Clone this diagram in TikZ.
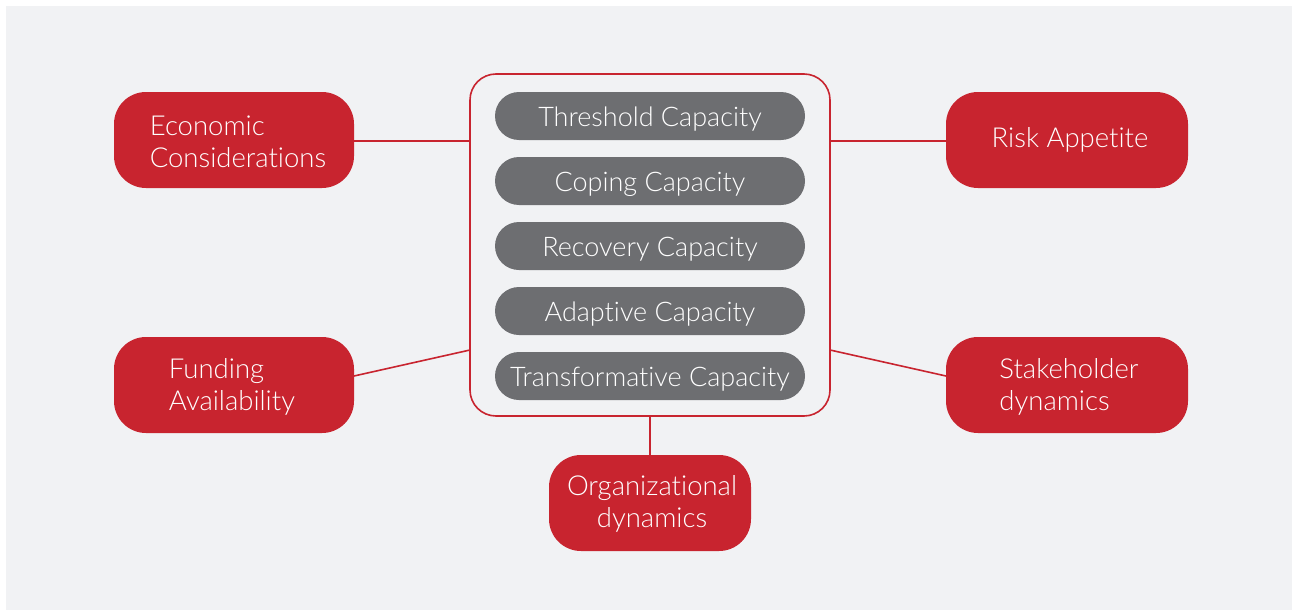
\documentclass[tikz,border=0pt]{standalone}
\usepackage{fontspec}
\setmainfont{Lato}[UprightFont={* Light},Ligatures=NoCommon]
\definecolor{bgc}{HTML}{F1F2F4}
\definecolor{redc}{HTML}{C8242F}
\definecolor{pillc}{HTML}{6D6E71}
\begin{document}
\begin{tikzpicture}[x=1pt,y=-1pt,
  redbox/.style={draw=none,fill=redc,rounded corners=32pt,minimum width=240pt,minimum height=96pt,inner sep=0pt},
  redtext/.style={text=white,align=left,inner sep=0pt,font=\fontsize{27.5}{32}\selectfont},
  pill/.style={fill=pillc,rounded corners=24pt,minimum width=310pt,minimum height=48pt,inner sep=0pt,
    text=white,font=\fontsize{27}{30}\selectfont,text height=22pt,text depth=2pt},
  link/.style={draw=redc,line width=1.6pt}]
\useasboundingbox (0,0) rectangle (1292,610);
\fill[white] (0,0) rectangle (1292,610);
\fill[bgc] (6,6) rectangle (1292,610);
% central frame
\node[draw=redc,line width=1.6pt,rounded corners=26pt,fill=bgc,minimum width=360pt,minimum height=342pt,inner sep=0pt] (core) at (650,245) {};
\node[pill] (p1) at (650,116) {Threshold Capacity};
\node[pill] (p2) at (650,181) {Coping Capacity};
\node[pill] (p3) at (650,246) {Recovery Capacity};
\node[pill] (p4) at (650,311) {Adaptive Capacity};
\node[pill] (p5) at (650,376) {Transformative Capacity};
% outer boxes
\node[redbox] (econ) at (234,140) {};
\node[redbox,minimum width=242pt] (risk) at (1067,140) {};
\node[redbox] (fund) at (234,385) {};
\node[redbox,minimum width=242pt] (stake) at (1067,385) {};
\node[redbox,minimum width=202pt] (org) at (650,503) {};
\node[redtext] (econT) at ([shift={(4,2)}]econ.center) {Economic\\Considerations};
\node[redtext] (riskT) at ([shift={(3,0)}]risk.center) {Risk Appetite};
\node[redtext] (fundT) at ([shift={(-2,2)}]fund.center) {Funding\\Availability};
\node[redtext] (stakeT) at ([shift={(2,2)}]stake.center) {Stakeholder\\dynamics};
\node[redtext,align=center] (orgT) at ([shift={(2,1)}]org.center) {Organizational\\dynamics};
% anchor coordinates
\coordinate (fundE) at (354,376);
\coordinate (coreFL) at (470,350);
\coordinate (coreFR) at (830,350);
\coordinate (stakeW) at (946,376);
\coordinate (econE) at (354,141);
\coordinate (riskW) at (946,141);
% connectors
\draw[link] (econE) -- (econE -| core.west);
\draw[link] (core.east |- riskW) -- (riskW);
\draw[link] (fundE) -- (coreFL);
\draw[link] (coreFR) -- (stakeW);
\draw[link] (core.south) -- (org.north);
\end{tikzpicture}
\end{document}
